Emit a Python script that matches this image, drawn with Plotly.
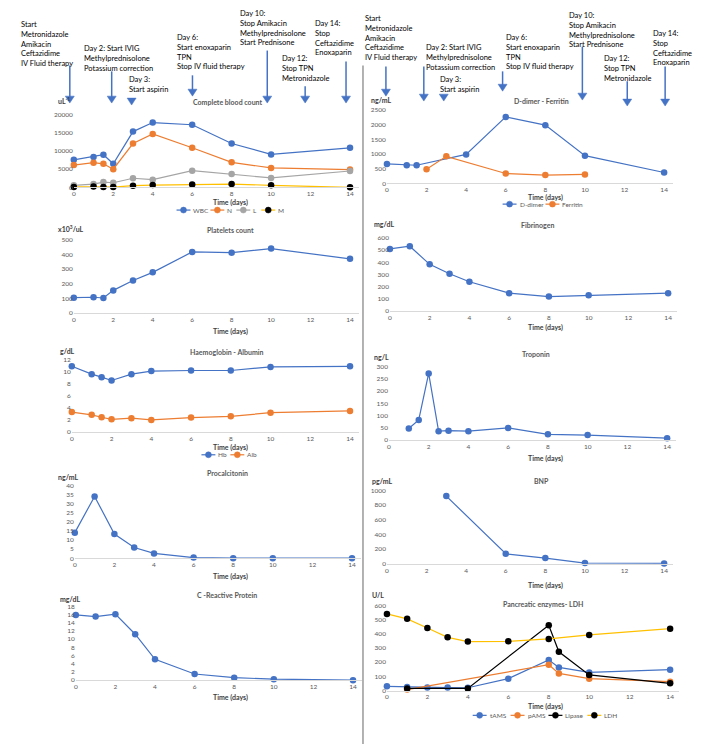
import plotly.graph_objects as go

W, H = 715, 755

# ---------------- data ----------------
days_cbc = [0, 1, 1.5, 2, 3, 4, 6, 8, 10, 14]
wbc = [7600, 8400, 9000, 6500, 15400, 17900, 17300, 12100, 9100, 10900]
neut = [6150, 6800, 6500, 5000, 12100, 14750, 10950, 6900, 5350, 4900]
lymph = [550, 900, 1450, 1250, 2500, 2100, 4600, 3700, 2600, 4500]
mono = [100, 200, 100, 50, 450, 600, 800, 900, 550, 0]

days_plt = [0, 1, 1.5, 2, 3, 4, 6, 8, 10, 14]
platelets = [105, 108, 103, 155, 222, 278, 417, 412, 440, 370]

days_hb = [0, 1, 1.5, 2, 3, 4, 6, 8, 10, 14]
hb = [10.9, 9.6, 9.1, 8.55, 9.6, 10.1, 10.2, 10.2, 10.8, 10.9]
alb = [3.3, 2.85, 2.45, 2.1, 2.3, 2.0, 2.4, 2.6, 3.2, 3.5]

days_pct = [0, 1, 2, 3, 4, 6, 8, 10, 14]
pct = [14.1, 34.0, 13.3, 5.9, 2.7, 0.4, 0.1, 0.1, 0.1]

days_crp = [0, 1, 2, 3, 4, 6, 8, 10, 14]
crp = [15.9, 15.5, 16.1, 11.2, 5.1, 1.5, 0.6, 0.25, 0]

days_dd = [0, 1, 1.5, 4, 6, 8, 10, 14]
ddimer = [661, 617, 617, 987, 2265, 1984, 942, 370]
days_fer = [2, 3, 6, 8, 10]
ferritin = [482, 919, 336, 280, 303]

days_fib = [0, 1, 2, 3, 4, 6, 8, 10, 14]
fibrinogen = [509, 531, 383, 306, 240, 147, 119, 130, 147]

days_trop = [1, 1.5, 2, 2.5, 3, 4, 6, 8, 10, 14]
troponin = [47, 82, 272, 36, 38, 36, 49, 23, 20, 7]

days_bnp = [3, 6, 8, 10, 14]
bnp = [923, 136, 78, 10, 5]

days_tams = [0, 1, 2, 3, 4, 6, 8, 8.5, 10, 14]
tams = [30, 26, 21, 21, 20, 84, 215, 163, 128, 147]
days_pams = [1, 8, 8.5, 10, 14]
pams = [7, 182, 121, 84, 63]
days_lip = [1, 4, 8, 8.5, 10, 14]
lipase = [15, 15, 460, 273, 110, 51]
days_ldh = [0, 1, 2, 3, 4, 6, 8, 10, 14]
ldh = [540, 505, 441, 375, 345, 347, 364, 392, 436]

x_ticks = [0, 2, 4, 6, 8, 10, 12, 14]

# ---------------- styles ----------------
BLUE, ORANGE, GRAY, YELLOW, BLACK = "#4472C4", "#ED7D31", "#A5A5A5", "#FFC000", "#000000"
FONT = "Lato, Liberation Sans, sans-serif"

def px_x(p):
    return p / W

def px_y(p):
    return 1 - p / H

panels = [
    dict(name="cbc", x0=72, x14=349, top=112, bot=185, ymax=20000, dtick=5000,
         title="Complete blood count", tx=226, ty=99, unit="uL<sup>-1</sup>", ux=54, uy=97, time_y=200),
    dict(name="plt", x0=72, x14=349, top=238, bot=312, ymax=500, dtick=100,
         title="Platelets count", tx=229, ty=228, unit="x10<sup>3</sup>/uL", ux=54, uy=227, time_y=331),
    dict(name="hb", x0=70, x14=349, top=359, bot=432, ymax=12, dtick=2,
         title="Haemoglobin - Albumin", tx=226, ty=351, unit="g/dL", ux=56, uy=350, time_y=448),
    dict(name="pct", x0=73, x14=351, top=486, bot=559.5, ymax=40, dtick=5,
         title="Procalcitonin", tx=226, ty=473, unit="ng/mL", ux=54, uy=477, time_y=578),
    dict(name="crp", x0=74, x14=352, top=608, bot=682.5, ymax=18, dtick=2,
         title="C -Reactive Protein", tx=226, ty=597, unit="mg/dL", ux=56, uy=601, time_y=700),
    dict(name="dd", x0=386, x14=664, top=107, bot=181, ymax=2500, dtick=500,
         title="D-dimer - Ferritin", tx=541, ty=98, unit="ng/mL", ux=368, uy=97, time_y=195),
    dict(name="fib", x0=389, x14=668, top=236, bot=310, ymax=600, dtick=100,
         title="Fibrinogen", tx=537, ty=223, unit="mg/dL", ux=371, uy=222, time_y=327),
    dict(name="trop", x0=388, x14=667, top=366, bot=440, ymax=300, dtick=50,
         title="Troponin", tx=535, ty=353, unit="ng/L", ux=371, uy=356, time_y=459),
    dict(name="bnp", x0=386, x14=664, top=491, bot=565, ymax=1000, dtick=200,
         title="BNP", tx=541, ty=481, unit="pg/mL", ux=369, uy=481, time_y=587),
    dict(name="panc", x0=386, x14=670, top=607, bot=693, ymax=600, dtick=100,
         title="Pancreatic enzymes- LDH", tx=543, ty=606, unit="U/L", ux=369, uy=597, time_y=709),
]

fig = go.Figure()
layout = dict(width=W, height=H, margin=dict(l=0, r=0, t=0, b=0), showlegend=False,
              paper_bgcolor="white", plot_bgcolor="white", font=dict(family=FONT))
annotations = []
shapes = []

XMAX = 14.45
for i, p in enumerate(panels):
    k = "" if i == 0 else str(i + 1)
    unit_px = (p["x14"] - p["x0"]) / 14.0
    dom_x = [px_x(p["x0"]), px_x(p["x0"] + unit_px * XMAX)]
    dom_y = [px_y(p["bot"]), px_y(p["top"])]
    p["xa"] = "x" + k
    p["ya"] = "y" + k
    layout["xaxis" + k] = dict(domain=dom_x, range=[0, XMAX], tickvals=x_ticks, showgrid=False,
                               zeroline=False, showline=True, linecolor="#D9D9D9", linewidth=1,
                               ticks="", tickfont=dict(size=6.5, color="#595959"),
                               anchor="y" + k, fixedrange=True)
    layout["yaxis" + k] = dict(domain=dom_y, range=[0, p["ymax"]], dtick=p["dtick"], tick0=0,
                               tickformat="d", showgrid=False, zeroline=False, showline=False,
                               ticks="", tickfont=dict(size=6.5, color="#595959"),
                               anchor="x" + k, fixedrange=True)
    annotations.append(dict(x=px_x(p["tx"]), y=px_y(p["ty"]), xref="paper", yref="paper",
                            text="<b>" + p["title"] + "</b>", showarrow=False,
                            xanchor="center", yanchor="middle",
                            font=dict(size=7, color="#595959", family=FONT)))
    annotations.append(dict(x=px_x(p["ux"]), y=px_y(p["uy"]), xref="paper", yref="paper",
                            text="<b>" + p["unit"] + "</b>", showarrow=False,
                            xanchor="left", yanchor="middle",
                            font=dict(size=7, color="#404040", family=FONT)))
    tcx = 229 if p["x0"] < 200 else 545
    annotations.append(dict(x=px_x(tcx), y=px_y(p["time_y"]), xref="paper", yref="paper",
                            text="<b>Time (days)</b>", showarrow=False,
                            xanchor="center", yanchor="middle",
                            font=dict(size=7, color="#404040", family=FONT)))

P = {p["name"]: p for p in panels}

def add(panel, x, y, name, mcolor, lcolor):
    p = P[panel]
    fig.add_trace(go.Scatter(
        x=x, y=y, name=name, mode="lines+markers", xaxis=p["xa"], yaxis=p["ya"],
        line=dict(color=lcolor, width=1.2),
        marker=dict(color=mcolor, size=6.5),
        cliponaxis=False, showlegend=False,
    ))

add("cbc", days_cbc, wbc, "WBC", BLUE, BLUE)
add("cbc", days_cbc, neut, "N", ORANGE, ORANGE)
add("cbc", days_cbc, lymph, "L", GRAY, GRAY)
add("cbc", days_cbc, mono, "M", BLACK, YELLOW)
add("plt", days_plt, platelets, "Platelets", BLUE, BLUE)
add("hb", days_hb, hb, "Hb", BLUE, BLUE)
add("hb", days_hb, alb, "Alb", ORANGE, ORANGE)
add("pct", days_pct, pct, "Procalcitonin", BLUE, BLUE)
add("crp", days_crp, crp, "CRP", BLUE, BLUE)
add("dd", days_dd, ddimer, "D-dimer", BLUE, BLUE)
add("dd", days_fer, ferritin, "Ferritin", ORANGE, ORANGE)
add("fib", days_fib, fibrinogen, "Fibrinogen", BLUE, BLUE)
add("trop", days_trop, troponin, "Troponin", BLUE, BLUE)
add("bnp", days_bnp, bnp, "BNP", BLUE, BLUE)
add("panc", days_tams, tams, "tAMS", BLUE, BLUE)
add("panc", days_pams, pams, "pAMS", ORANGE, ORANGE)
add("panc", days_lip, lipase, "Lipase", BLACK, BLACK)
add("panc", days_ldh, ldh, "LDH", BLACK, YELLOW)

# ---------------- compact Excel-style legends ----------------
legend_rows = [
    (208, [("WBC", 175, BLUE, BLUE), ("N", 209, ORANGE, ORANGE),
           ("L", 235, GRAY, GRAY), ("M", 260, BLACK, YELLOW)]),
    (202, [("D-dimer", 502, BLUE, BLUE), ("Ferritin", 545, ORANGE, ORANGE)]),
    (455, [("Hb", 200, BLUE, BLUE), ("Alb", 229, ORANGE, ORANGE)]),
    (718, [("tAMS", 472, BLUE, BLUE), ("pAMS", 510, ORANGE, ORANGE),
           ("Lipase", 548, BLACK, BLACK), ("LDH", 587, BLACK, YELLOW)]),
]
for ly, items in legend_rows:
    for label, sx, mc, lc in items:
        shapes.append(dict(type="line", xref="paper", yref="paper",
                           x0=px_x(sx), x1=px_x(sx + 14), y0=px_y(ly), y1=px_y(ly),
                           line=dict(color=lc, width=1.2)))
        shapes.append(dict(type="circle", xref="paper", yref="paper",
                           x0=px_x(sx + 4), x1=px_x(sx + 10), y0=px_y(ly + 3), y1=px_y(ly - 3),
                           fillcolor=mc, line=dict(color=mc, width=0.5)))
        annotations.append(dict(x=px_x(sx + 15), y=px_y(ly), xref="paper", yref="paper",
                                text=label, showarrow=False, xanchor="left", yanchor="middle",
                                font=dict(size=6.5, color="#595959", family=FONT)))

# ---------------- treatment timeline notes ----------------
notes = [
    ("Start<br>Metronidazole<br>Amikacin<br>Ceftazidime<br>IV Fluid therapy", 17, 14),
    ("Day 2: Start IVIG<br>Methylprednisolone<br>Potassium correction", 80, 38),
    ("Day 3:<br>Start aspirin", 125, 70),
    ("Day 6:<br>Start enoxaparin<br>TPN<br>Stop IV fluid therapy", 173, 27),
    ("Day 10:<br>Stop Amikacin<br>Methylprednisolone<br>Start Prednisone", 237, 3),
    ("Day 12:<br>Stop TPN<br>Metronidazole", 279, 48),
    ("Day 14:<br>Stop<br>Ceftazidime<br>Enoxaparin", 312, 13),
    ("Start<br>Metronidazole<br>Amikacin<br>Ceftazidime<br>IV Fluid therapy", 362, 8),
    ("Day 2: Start IVIG<br>Methylprednisolone<br>Potassium correction", 423, 37),
    ("Day 3:<br>Start aspirin", 437, 70),
    ("Day 6:<br>Start enoxaparin<br>TPN<br>Stop IV fluid therapy", 503, 27),
    ("Day 10:<br>Stop Amikacin<br>Methylprednisolone<br>Start Prednisone", 567, 5),
    ("Day 12:<br>Stop TPN<br>Metronidazole", 602, 48),
    ("Day 14:<br>Stop<br>Ceftazidime<br>Enoxaparin", 651, 23),
]
for txt, lx, ty in notes:
    annotations.append(dict(x=px_x(lx), y=px_y(ty), xref="paper", yref="paper", text=txt,
                            showarrow=False, xanchor="left", yanchor="top", align="left",
                            font=dict(size=7.5, color="#000000", family=FONT)))

arrows = [
    (68, 62, 100), (110, 68, 100), (130, 95, 102), (191, 72, 93),
    (266, 47, 100), (304, 83, 100), (345, 58, 100),
    (385, 63, 93), (423, 63, 98), (443, 93, 98), (502, 68, 88),
    (582, 43, 97), (627, 78, 103), (665, 63, 103),
]
for ax_, y0, y1 in arrows:
    shapes.append(dict(type="line", xref="paper", yref="paper",
                       x0=px_x(ax_), x1=px_x(ax_), y0=px_y(y0), y1=px_y(y1 - 6),
                       line=dict(color=BLUE, width=1.5)))
    path = "M {a},{b} L {c},{b} L {d},{e} Z".format(
        a=px_x(ax_ - 4.5), b=px_y(y1 - 7), c=px_x(ax_ + 4.5), d=px_x(ax_), e=px_y(y1))
    shapes.append(dict(type="path", xref="paper", yref="paper", path=path,
                       fillcolor=BLUE, line=dict(color=BLUE, width=0.5)))

# divider between columns
shapes.append(dict(type="line", xref="paper", yref="paper",
                   x0=px_x(362), x1=px_x(362), y0=px_y(62), y1=px_y(747),
                   line=dict(color="#7F7F7F", width=1.2)))

layout["annotations"] = annotations
layout["shapes"] = shapes
fig.update_layout(**layout)
fig.write_html("out.html", config={"displayModeBar": False},
               post_script="document.body.style.margin='0';")
